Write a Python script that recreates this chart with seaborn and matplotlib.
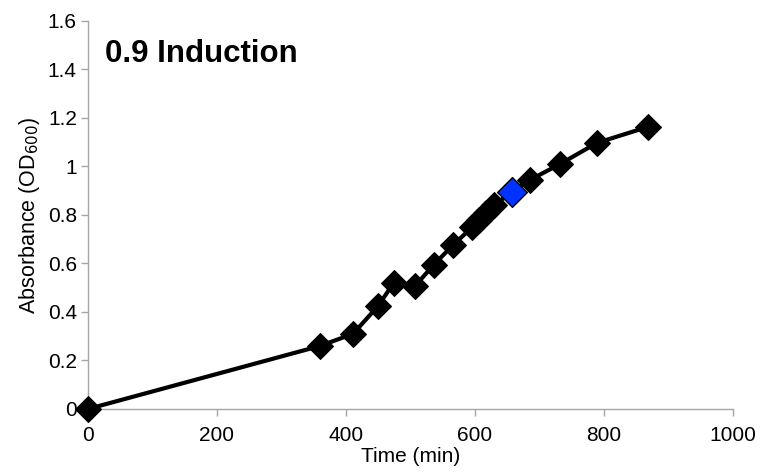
import numpy as np
import pandas as pd
import matplotlib
matplotlib.use("Agg")
import matplotlib.pyplot as plt
import seaborn as sns

# datos
tiempo = [0, 360, 411, 450, 474, 507, 536, 566, 596, 606, 617, 630, 657, 685, 732, 789, 868]
absorbancia = [0, 0.26, 0.31, 0.425, 0.52, 0.507, 0.594, 0.676, 0.75, 0.78, 0.81, 0.84, 0.895, 0.944, 1.01, 1.097, 1.163]
punto_induccion = 657

sns.set_theme(style="white")
plt.rcParams['font.family'] = ['Liberation Sans', 'DejaVu Sans']
plt.rcParams['text.color'] = 'black'
plt.rcParams['axes.labelcolor'] = 'black'

df = pd.DataFrame({"t": tiempo, "od": absorbancia})

fig = plt.figure(figsize=(7.61, 4.76), dpi=100)
ax = fig.add_axes([0.1156, 0.1408, 0.8475, 0.8152])

sns.lineplot(data=df, x="t", y="od", ax=ax, color="black", linewidth=3,
             marker="D", markersize=13.5, markerfacecolor="black",
             markeredgecolor="black", clip_on=False, zorder=3)

ind = df[df.t == punto_induccion]
sns.scatterplot(data=ind, x="t", y="od", ax=ax, marker="D", s=230,
                color="#0033ff", edgecolor="black", linewidth=1, zorder=4)

ax.set_xlim(0, 1000)
ax.set_ylim(0, 1.6)
ax.set_xticks(np.arange(0, 1001, 200))
ax.set_yticks(np.arange(0, 1.61, 0.2))
ax.set_yticklabels(["0", "0.2", "0.4", "0.6", "0.8", "1", "1.2", "1.4", "1.6"])

for s in ["top", "right"]:
    ax.spines[s].set_visible(False)
for s in ["left", "bottom"]:
    ax.spines[s].set_color("#a6a6a6")
    ax.spines[s].set_linewidth(1)
ax.tick_params(axis="both", direction="out", length=5, width=1, color="#a6a6a6",
               labelsize=15, labelcolor="black", bottom=True, left=True)
ax.tick_params(axis="x", pad=7)
ax.tick_params(axis="y", pad=3)

ax.set_xlabel("Time (min)", fontsize=15, labelpad=2)
ax.set_ylabel("Absorbance (OD$_{600}$)", fontsize=15.5, labelpad=4)

ax.text(0.026, 0.894, "0.9 Induction", transform=ax.transAxes, fontsize=22.5,
        fontweight="bold", va="baseline", ha="left")

fig.savefig("out.png", dpi=100)
